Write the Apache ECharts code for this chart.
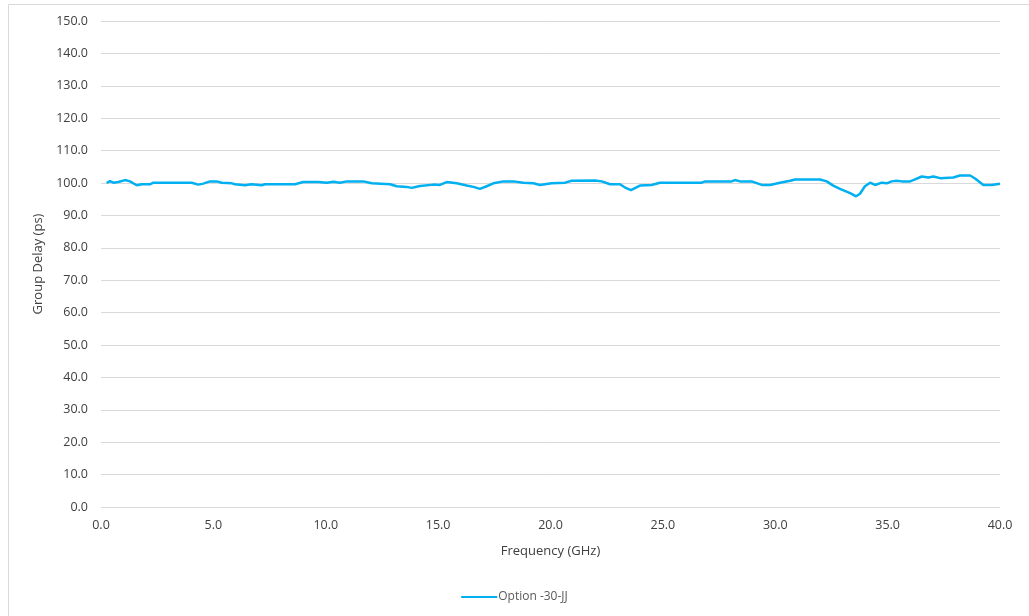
<!DOCTYPE html>
<html>
<head>
<meta charset="utf-8">
<script src="https://cdn.jsdelivr.net/npm/echarts@6/dist/echarts.min.js"></script>
<style>
html, body { margin: 0; padding: 0; background: #fff; }
#chart { width: 1029px; height: 616px; }
</style>
</head>
<body>
<div id="chart"></div>
<script>
// frequency (GHz) and group delay (ps)
var freq = [0.25, 0.4, 0.55, 0.77, 1.07, 1.29, 1.59, 1.81, 2.18, 2.33, 4.03, 4.33, 4.55, 4.85, 5.15, 5.37, 5.82, 5.96, 6.41, 6.7,
    7.15, 7.3, 8.63, 9.0, 9.67, 10.04, 10.34, 10.63, 10.93, 11.67, 12.05, 12.86, 13.16, 13.6, 13.82, 14.19, 14.79, 15.08, 15.38, 15.83,
    16.27, 16.57, 16.86, 17.16, 17.46, 17.9, 18.35, 18.79, 19.24, 19.53, 20.05, 20.65, 20.94, 21.98, 22.28, 22.65, 23.09, 23.32, 23.58, 23.98,
    24.5, 24.87, 26.73, 26.88, 28.06, 28.21, 28.43, 28.95, 29.4, 29.77, 30.21, 30.66, 30.88, 31.99, 32.29, 32.58, 32.88, 33.33, 33.6, 33.77,
    33.99, 34.22, 34.44, 34.74, 34.96, 35.18, 35.4, 35.63, 36.0, 36.22, 36.52, 36.81, 37.04, 37.33, 37.92, 38.22, 38.67, 38.89, 39.26, 39.63, 40.0];
var delay = [100.0, 100.6, 100.1, 100.3, 100.9, 100.5, 99.3, 99.6, 99.6, 100.1, 100.1, 99.5, 99.8, 100.5, 100.5, 100.1, 99.9, 99.6, 99.3, 99.6,
    99.3, 99.6, 99.6, 100.3, 100.3, 100.1, 100.4, 100.1, 100.5, 100.5, 99.9, 99.6, 99.0, 98.8, 98.5, 99.1, 99.5, 99.4, 100.3, 99.9,
    99.2, 98.8, 98.2, 99.0, 99.9, 100.5, 100.5, 100.1, 99.9, 99.4, 99.9, 100.1, 100.7, 100.8, 100.5, 99.6, 99.6, 98.6, 97.8, 99.2,
    99.4, 100.1, 100.1, 100.5, 100.5, 100.9, 100.5, 100.5, 99.4, 99.4, 100.1, 100.7, 101.1, 101.1, 100.5, 99.2, 98.2, 96.9, 95.9, 96.7,
    99.0, 100.1, 99.4, 100.1, 99.9, 100.5, 100.7, 100.5, 100.5, 101.1, 102.0, 101.7, 102.0, 101.5, 101.7, 102.3, 102.3, 101.4, 99.4, 99.4, 99.8];
var seriesName = 'Option -30-JJ';

var font = "'Open Sans', 'Liberation Sans', sans-serif";
var labelColor = '#404040';

var chart = echarts.init(document.getElementById('chart'));
chart.setOption({
    animation: false,
    backgroundColor: '#fff',
    textStyle: { fontFamily: font },
    graphic: [{
        type: 'rect',
        shape: { x: 8.5, y: 4.5, width: 1030, height: 620 },
        style: { fill: 'none', stroke: '#d9d9d9', lineWidth: 1 },
        silent: true
    }],
    grid: { left: 101, right: 29, top: 21, bottom: 109 },
    legend: {
        bottom: 8,
        left: 'center',
        itemWidth: 36,
        itemHeight: 2,
        itemGap: 0,
        icon: 'rect',
        textStyle: { color: '#595959', fontSize: 12, fontFamily: font, padding: [0, 0, 0, -4] },
        data: [seriesName]
    },
    xAxis: {
        type: 'value',
        min: 0,
        max: 40,
        interval: 5,
        name: 'Frequency (GHz)',
        nameLocation: 'middle',
        nameGap: 38,
        nameTextStyle: { color: '#404040', fontSize: 13, fontFamily: font },
        axisLine: { show: false },
        axisTick: { show: false },
        splitLine: { show: false },
        axisLabel: {
            color: labelColor, fontSize: 12.5, margin: 12, fontFamily: font,
            formatter: function (v) { return v.toFixed(1); }
        }
    },
    yAxis: {
        type: 'value',
        min: 0,
        max: 150,
        interval: 10,
        name: 'Group Delay (ps)',
        nameLocation: 'middle',
        nameRotate: 90,
        nameGap: 53,
        nameTextStyle: { color: '#404040', fontSize: 13, fontFamily: font },
        axisLine: { show: false },
        axisTick: { show: false },
        splitLine: { lineStyle: { color: '#d9d9d9', width: 1 } },
        axisLabel: {
            color: labelColor, fontSize: 12.5, margin: 13, fontFamily: font,
            formatter: function (v) { return v.toFixed(1); }
        }
    },
    series: [{
        name: seriesName,
        type: 'line',
        showSymbol: false,
        symbol: 'none',
        lineStyle: { color: '#00b0f0', width: 2.5 },
        itemStyle: { color: '#00b0f0' },
        data: freq.map(function (f, i) { return [f, delay[i]]; })
    }]
});
</script>
</body>
</html>
